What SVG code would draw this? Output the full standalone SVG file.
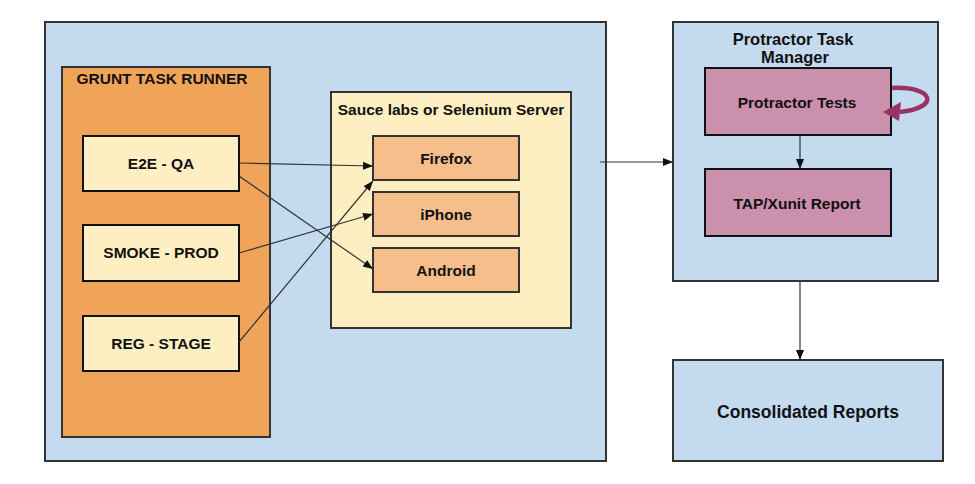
<svg xmlns="http://www.w3.org/2000/svg" width="975" height="484" viewBox="0 0 975 484">
<defs>
<style>
text{font-family:"Liberation Sans",Arial,sans-serif;font-weight:bold;fill:#111;text-anchor:middle;}
.box{stroke:#333;stroke-width:2;}
.blue{fill:#C4DAEE;}
.orange{fill:#F0A45A;}
.cream{fill:#FEEFC2;}
.peach{fill:#F5BE8A;}
.pink{fill:#CB90AD;}
.conn{stroke:#333;stroke-width:1.2;fill:none;marker-end:url(#arr);}
</style>
<marker id="arr" viewBox="0 0 10 10" refX="10" refY="5" markerWidth="10" markerHeight="10" markerUnits="userSpaceOnUse" orient="auto">
<path d="M0,1 L10,5 L0,9 Z" fill="#111"/>
</marker>
</defs>
<rect width="975" height="484" fill="#fff"/>
<g id="outer"><rect class="box blue" x="45" y="22" width="561" height="439"/></g>
<g id="grunt"><rect class="box orange" x="62" y="67" width="208" height="370"/><text x="162" y="84" font-size="15.5">GRUNT TASK RUNNER</text></g>
<g id="e2e"><rect class="box cream" x="83" y="136" width="156" height="55" style="stroke:#111"/><text x="161" y="169" font-size="15.5">E2E - QA</text></g>
<g id="smoke"><rect class="box cream" x="83" y="225" width="156" height="56" style="stroke:#111"/><text x="161" y="258" font-size="15.5">SMOKE - PROD</text></g>
<g id="reg"><rect class="box cream" x="83" y="316" width="156" height="55" style="stroke:#111"/><text x="161" y="349" font-size="15.5">REG - STAGE</text></g>
<g id="sauce"><rect class="box cream" x="331" y="92" width="240" height="236"/><text x="451" y="115" font-size="15.5">Sauce labs or Selenium Server</text></g>
<g id="firefox"><rect class="box peach" x="373" y="136" width="146" height="44"/><text x="446" y="164" font-size="15.5">Firefox</text></g>
<g id="iphone"><rect class="box peach" x="373" y="192" width="146" height="44"/><text x="446" y="220" font-size="15.5">iPhone</text></g>
<g id="android"><rect class="box peach" x="373" y="248" width="146" height="44"/><text x="446" y="276" font-size="15.5">Android</text></g>
<g id="ptm"><rect class="box blue" x="673" y="22" width="265" height="259"/><text x="793" y="45" font-size="16.5">Protractor Task</text><text x="795" y="63" font-size="16.5">Manager</text></g>
<g id="ptests"><rect class="box pink" x="705" y="68" width="186" height="67" style="stroke:#111"/><text x="797" y="108" font-size="15.5">Protractor Tests</text></g>
<g id="tap"><rect class="box pink" x="705" y="169" width="186" height="67" style="stroke:#111"/><text x="797" y="209" font-size="15.5">TAP/Xunit Report</text></g>
<g id="consolidated"><rect class="box blue" x="673" y="360" width="270" height="101"/><text x="808" y="418" font-size="17.5">Consolidated Reports</text></g>
<g id="connectors">
<path class="conn" d="M239,163 L373,166"/>
<path class="conn" d="M239,176 L373,269"/>
<path class="conn" d="M239,253 L373,214"/>
<path class="conn" d="M239,342 L373,181"/>
<path class="conn" d="M600,162 L673,162"/>
<path class="conn" d="M800,135 L800,169"/>
<path class="conn" d="M800,281 L800,360"/>
<path d="M892,88 C935,86 940,108 900,112" fill="none" stroke="#993366" stroke-width="4.5"/>
<path d="M883,112 L901,102 L899,121 Z" fill="#993366"/>
</g>
</svg>
